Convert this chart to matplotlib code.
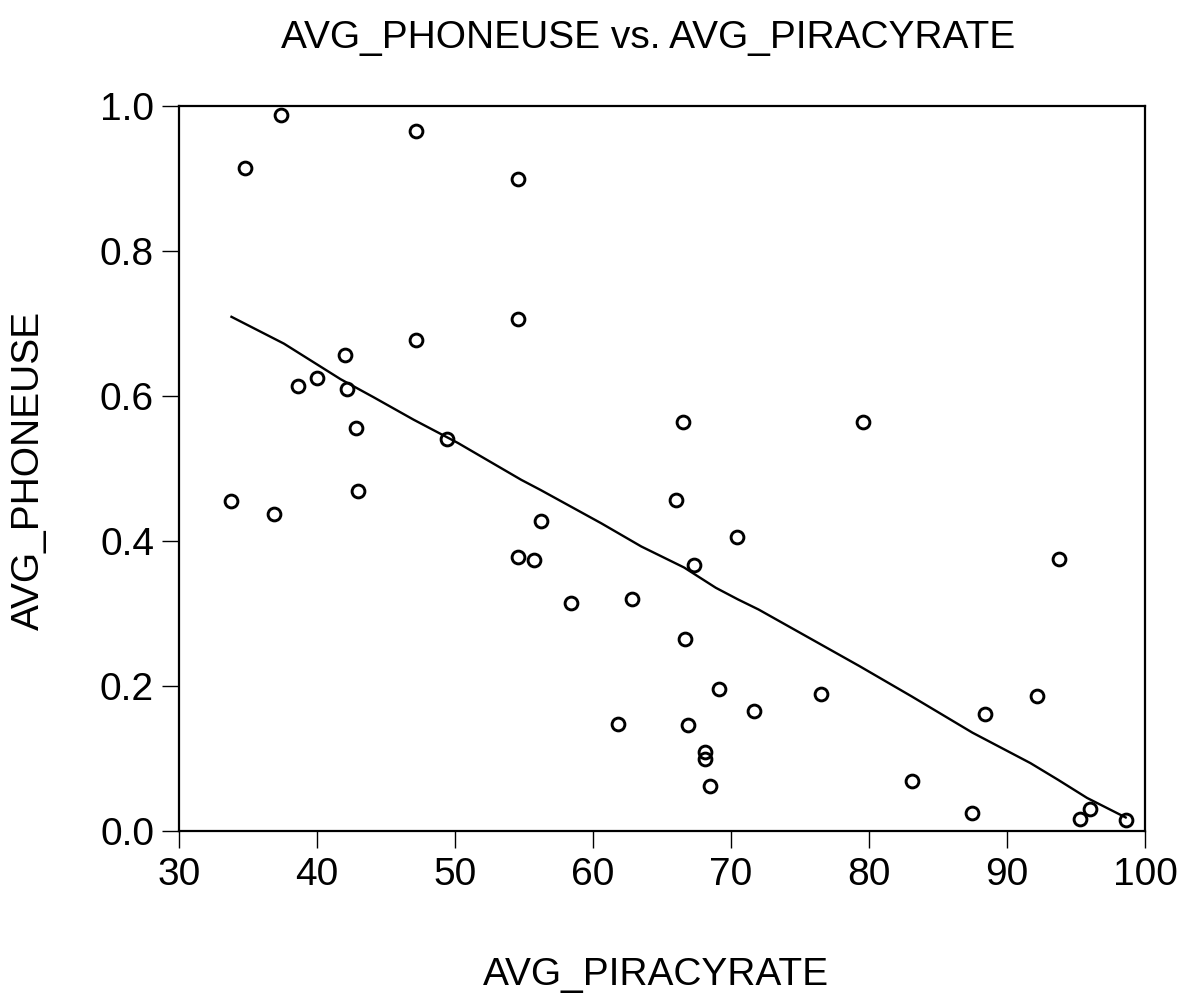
import matplotlib
matplotlib.use("Agg")
import matplotlib.pyplot as plt
import numpy as np

# scatter data
piracy = [34.8, 37.4, 47.2, 54.6, 54.6, 47.2, 42.0, 40.0, 38.6, 42.2,
          42.8, 49.4, 43.0, 33.8, 36.9, 56.2, 54.6, 55.7, 58.4, 62.8,
          61.8, 66.5, 79.6, 66.0, 70.4, 67.3, 66.7, 69.1, 76.5, 71.7,
          92.2, 88.4, 66.9, 68.1, 68.1, 68.5, 83.1, 87.5, 96.0, 95.3,
          98.6, 93.8]
phoneuse = [0.915, 0.988, 0.965, 0.899, 0.706, 0.677, 0.656, 0.625, 0.613, 0.610,
            0.555, 0.541, 0.469, 0.455, 0.437, 0.427, 0.378, 0.374, 0.314, 0.320,
            0.147, 0.564, 0.564, 0.456, 0.405, 0.366, 0.264, 0.195, 0.189, 0.165,
            0.185, 0.161, 0.146, 0.109, 0.098, 0.062, 0.068, 0.024, 0.030, 0.016,
            0.014, 0.375]

# fitted curve
fit_x = [33.8, 37.6, 41.7, 44.1, 47.0, 50.2, 54.8, 56.2, 60.6, 63.5, 66.6,
         68.9, 70.5, 72.0, 79.3, 83.1, 87.5, 91.7, 93.7, 95.8, 98.6]
fit_y = [0.709, 0.672, 0.623, 0.598, 0.567, 0.535, 0.484, 0.470, 0.424, 0.392,
         0.363, 0.335, 0.319, 0.305, 0.227, 0.185, 0.135, 0.093, 0.070, 0.045,
         0.018]

xticks = [30, 40, 50, 60, 70, 80, 90, 100]
yticks = [0.0, 0.2, 0.4, 0.6, 0.8, 1.0]

plt.rcParams['font.family'] = ['Liberation Sans', 'DejaVu Sans']

fig = plt.figure(figsize=(11.81, 9.97), dpi=100)
ax = fig.add_axes([0.1516, 0.167, 0.8179, 0.7267])

ax.plot(fit_x, fit_y, color='black', linewidth=1.7)
ax.plot(piracy, phoneuse, linestyle='none', marker='o', markersize=9.2,
        markerfacecolor='none', markeredgecolor='black', markeredgewidth=2.1)

ax.set_xlim(30, 100)
ax.set_ylim(0, 1)
ax.set_xticks(xticks)
ax.set_xticklabels([str(t) for t in xticks])
ax.set_yticks(yticks)
ax.set_yticklabels(['%.1f' % t for t in yticks])

for s in ax.spines.values():
    s.set_linewidth(1.6)
ax.tick_params(direction='out', length=12, width=1, labelsize=28)
ax.tick_params(axis='x', pad=7)
ax.tick_params(axis='y', pad=6)

ax.set_xlabel('AVG_PIRACYRATE', fontsize=28, va='center')
ax.xaxis.set_label_coords(0.494, -0.1995)
ax.set_ylabel('AVG_PHONEUSE', fontsize=28, va='center', ha='center')
ax.yaxis.set_label_coords(-0.155, 0.4976)

fig.text(0.5487, 0.962, 'AVG_PHONEUSE vs. AVG_PIRACYRATE', fontsize=28,
         ha='center', va='center')

fig.savefig('out.png', dpi=100)
